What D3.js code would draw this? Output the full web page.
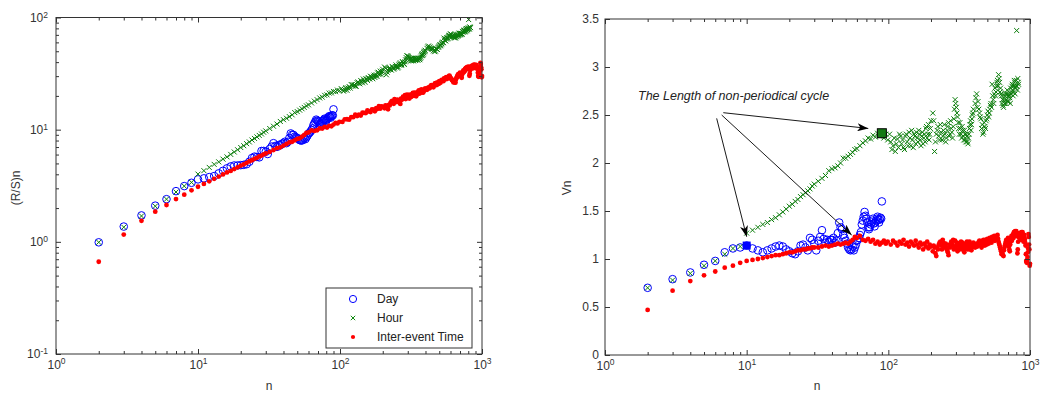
<!DOCTYPE html>
<html><head><meta charset="utf-8">
<script src="https://cdn.jsdelivr.net/npm/d3@7/dist/d3.min.js"></script>
<style>body{margin:0;background:#fff;} svg{display:block;}</style>
</head><body><svg id="c" width="1040" height="394"></svg>
<script>
// ---------------- data (Vn; (R/S)n = Vn * sqrt(n)) ----------------
const seriesNames = ["Day", "Hour", "Inter-event Time"];

const dayN = d3.range(2, 91);
const dayV = [0.70,0.79,0.86,0.94,0.98,1.07,1.11,1.12,1.14,1.11,1.09,1.07,1.09,1.11,1.13,1.14,1.13,1.10,1.08,
  1.06,1.05,1.08,1.14,1.15,1.12,1.09,1.22,1.20,1.16,1.09,1.19,1.23,1.30,1.21,1.17,1.20,1.18,1.20,1.20,
  1.22,1.17,1.19,1.27,1.38,1.33,1.31,1.25,1.22,1.19,1.16,1.12,1.10,1.09,1.10,1.13,1.09,1.12,1.15,1.19,
  1.20,1.22,1.25,1.28,1.36,1.40,1.44,1.49,1.45,1.42,1.38,1.33,1.31,1.33,1.36,1.38,1.40,1.42,1.37,1.34,
  1.38,1.40,1.42,1.44,1.41,1.38,1.41,1.43,1.42,1.60];

const hourN = [].concat(d3.range(2, 31), d3.range(32, 61, 2), d3.range(63, 100, 3), d3.range(104, 201, 4),
  d3.range(206, 399, 6), d3.range(410, 801, 10), [805, 810, 820, 830],
  d3.range(102, 199, 4), d3.range(209, 396, 6), d3.range(415, 796, 10), [815, 825]);
const hourV = [0.70,0.78,0.85,0.93,0.98,1.05,1.11,1.13,
  1.27,1.30,1.33,1.36,1.38,1.41,1.43,1.46,1.49,1.52,1.55,1.57,1.60,1.62,1.65,1.67,1.69,1.71,1.73,1.76,1.78,
  1.81,1.84,1.87,1.92,1.94,1.95,1.97,2.00,2.05,2.05,2.07,2.09,2.11,2.14,2.15,
  2.18,2.21,2.23,2.26,2.25,2.29,2.27,2.31,2.28,2.31,2.26,2.30,2.24,
  2.22,2.18,2.12,2.25,2.30,2.20,2.16,2.28,2.22,2.32,2.18,2.24,2.30,2.20,2.26,2.34,2.24,2.28,2.20,2.30,2.36,2.26,2.40,2.30,2.44,
  2.52,2.12,2.30,2.38,2.24,2.32,2.28,2.40,2.22,2.34,2.42,2.30,2.36,2.26,2.46,2.66,2.58,2.48,2.36,2.42,2.30,2.38,2.28,2.34,2.24,2.30,2.22,2.26,2.36,2.44,2.40,2.50,2.56,
  2.62,2.72,2.64,2.52,2.46,2.40,2.32,2.38,2.44,2.50,2.48,2.56,2.62,2.82,2.66,2.72,2.70,2.80,2.86,2.92,
  2.84,2.78,2.70,2.66,2.58,2.62,2.72,2.66,2.76,2.70,2.64,2.68,2.78,2.74,2.82,2.70,2.80,2.84,2.78,2.86,
  3.38,2.80,2.88,2.82,
  2.30,2.14,2.26,2.20,2.16,2.28,2.24,2.14,2.30,2.18,2.26,2.34,2.16,2.28,2.32,2.22,2.30,2.18,2.32,2.26,2.22,2.38,2.30,2.24,2.36,
  2.44,2.22,2.34,2.28,2.40,2.24,2.34,2.30,2.26,2.38,2.28,2.44,2.32,2.38,2.56,2.62,2.52,2.42,2.30,2.36,2.26,2.34,2.24,2.30,2.22,2.28,2.20,2.30,2.40,2.34,2.46,2.52,
  2.68,2.58,2.56,2.48,2.36,2.30,2.42,2.36,2.46,2.54,2.52,2.60,2.58,2.70,2.62,2.78,2.74,2.84,2.80,2.88,
  2.74,2.72,2.62,2.60,2.66,2.70,2.62,2.72,2.64,2.72,2.70,2.62,2.72,2.80,2.76,2.74,2.86,2.72,2.80,
  2.76,2.84];

const ieN = [].concat(d3.range(2, 31), d3.range(32, 61, 2), d3.range(63, 100, 3), d3.range(104, 201, 4),
  d3.range(206, 399, 6), d3.range(410, 1001, 10), d3.range(209, 396, 6), d3.range(415, 996, 10));
const ieV = [0.47,0.67,0.77,0.83,0.87,0.91,0.93,0.96,0.98,0.99,1.00,1.01,1.02,1.03,1.04,1.04,1.05,1.06,1.07,1.07,1.08,1.09,1.09,1.10,1.10,1.11,1.11,1.12,1.12,
  1.12,1.13,1.14,1.13,1.14,1.15,1.16,1.15,1.16,1.17,1.16,1.18,1.20,1.23,1.22,
  1.24,1.20,1.19,1.21,1.18,1.20,1.16,1.18,1.15,1.17,1.19,1.16,1.18,
  1.15,1.19,1.17,1.14,1.18,1.16,1.20,1.15,1.17,1.13,1.18,1.16,1.14,1.19,1.15,1.12,1.17,1.15,1.10,1.16,1.13,1.18,1.11,1.15,1.13,
  1.08,1.12,1.03,1.10,1.17,1.14,1.20,1.12,1.16,1.09,1.04,1.12,1.18,1.15,1.10,1.19,1.14,1.08,1.16,1.12,1.18,1.10,1.14,1.07,1.12,1.16,1.10,1.14,1.18,1.13,1.09,1.15,1.17,
  1.12,1.16,1.14,1.19,1.15,1.17,1.20,1.14,1.18,1.21,1.16,1.22,1.19,1.23,1.21,1.24,1.20,1.22,1.25,1.18,
  1.14,1.10,1.05,1.08,1.03,1.12,1.16,1.20,1.17,1.22,1.13,1.08,1.19,1.24,1.21,1.26,1.28,1.25,1.27,1.29,
  1.26,1.10,1.23,1.27,1.26,1.24,1.28,1.22,1.26,1.18,1.25,1.20,1.14,0.98,0.96,1.02,1.11,1.23,1.10,0.95,
  1.14,1.06,1.12,1.15,1.18,1.10,1.17,1.14,1.12,1.07,1.15,1.13,1.16,1.20,1.12,1.11,
  1.17,1.14,1.10,1.15,1.13,1.17,1.09,1.15,1.12,1.18,1.13,1.16,1.10,1.15,1.12,1.14,
  1.15,1.13,1.18,1.16,1.12,1.19,1.16,1.20,1.15,1.18,1.19,1.20,1.17,1.21,1.23,1.19,1.22,1.24,1.21,1.16,
  1.12,1.08,1.06,1.04,1.09,1.14,1.18,1.15,1.20,1.17,1.10,1.15,1.22,1.19,1.24,1.22,1.27,1.29,1.24,1.27,
  1.06,1.18,1.25,1.22,1.27,1.20,1.24,1.28,1.21,1.23,1.22,1.17,1.05,0.97,0.99,1.07,1.26,1.15,0.93];

// highlighted points ("length of non-periodical cycle")
const cycleDay = {n: 10, v: 1.14};
const cycleHour = {n: 90, v: 2.31};
const annotText = "The Length of non-periodical cycle";
const annotAt = {n: 1.71, v: 2.656};
const arrowTails = [{n: 6.84, v: 2.524}, {n: 6.14, v: 2.465}, {n: 6.66, v: 2.50}];
const arrowHeads = [{n: 72.2, v: 2.36}, {n: 10.0, v: 1.232}, {n: 55.1, v: 1.25}];

const xTicksMajor = [1, 10, 100, 1000];
const yTicksLeft = [0.1, 1, 10, 100];
const yTicksRight = [0, 0.5, 1, 1.5, 2, 2.5, 3, 3.5];

// ---------------- drawing ----------------
const FONT = '"Liberation Sans", Arial, Helvetica, sans-serif';
const INK = "#333";
const svg = d3.select("#c").attr("font-family", FONT);

const mk = (N, V) => N.map((n, i) => ({n, v: V[i], rs: V[i] * Math.sqrt(n)}));
const day = mk(dayN, dayV), hour = mk(hourN, hourV), ie = mk(ieN, ieV);

const xL = d3.scaleLog().domain([1, 1000]).range([56, 482]);
const yL = d3.scaleLog().domain([0.1, 100]).range([354, 17.5]);
const xR = d3.scaleLog().domain([1, 1000]).range([605, 1030]);
const yR = d3.scaleLinear().domain([0, 3.5]).range([355, 19]);

function minorsOf(majors) {
  const out = [];
  for (let i = 0; i < majors.length - 1; i++) for (let k = 2; k < 10; k++) out.push(majors[i] * k);
  return out;
}

function supify(sel) {
  sel.selectAll(".tick text").each(function(d) {
    const e = Math.round(Math.log10(d));
    const t = d3.select(this);
    t.text(null);
    t.append("tspan").text("10");
    t.append("tspan").attr("dy", "-0.5em").attr("font-size", "8.5px").text(e);
  });
}

function styleAxis(g) {
  g.select(".domain").remove();
  g.attr("font-family", FONT).attr("font-size", 12);
  g.selectAll(".tick line").attr("stroke", INK).attr("stroke-width", 1);
  g.selectAll(".tick text").attr("fill", INK);
}

function frame(x, y, logY, yMajor, yFmt, pad) {
  const [x0, x1] = x.range(), [y0, y1] = y.range();
  const g = svg.append("g");
  const xMin = minorsOf(xTicksMajor);
  const bx = g.append("g").attr("transform", `translate(0,${y0})`)
    .call(d3.axisBottom(x).tickValues(xTicksMajor).tickSize(-5).tickPadding(pad.x));
  supify(bx); styleAxis(bx);
  styleAxis(g.append("g").attr("transform", `translate(0,${y0})`).call(d3.axisBottom(x).tickValues(xMin).tickSize(-3).tickFormat("")));
  styleAxis(g.append("g").attr("transform", `translate(0,${y1})`).call(d3.axisTop(x).tickValues(xTicksMajor).tickSize(-5).tickFormat("")));
  styleAxis(g.append("g").attr("transform", `translate(0,${y1})`).call(d3.axisTop(x).tickValues(xMin).tickSize(-3).tickFormat("")));

  const ly = g.append("g").attr("transform", `translate(${x0},0)`)
    .call(d3.axisLeft(y).tickValues(yMajor).tickSize(-5).tickPadding(pad.y).tickFormat(yFmt));
  if (logY) supify(ly);
  styleAxis(ly);
  styleAxis(g.append("g").attr("transform", `translate(${x1},0)`).call(d3.axisRight(y).tickValues(yMajor).tickSize(-5).tickFormat("")));
  if (logY) {
    const yMin = minorsOf(yMajor);
    styleAxis(g.append("g").attr("transform", `translate(${x0},0)`).call(d3.axisLeft(y).tickValues(yMin).tickSize(-3).tickFormat("")));
    styleAxis(g.append("g").attr("transform", `translate(${x1},0)`).call(d3.axisRight(y).tickValues(yMin).tickSize(-3).tickFormat("")));
  }
  g.append("rect").attr("x", x0).attr("y", y1).attr("width", x1 - x0).attr("height", y0 - y1)
    .attr("fill", "none").attr("stroke", INK).attr("stroke-width", 1);
  return g;
}

const xShape = s => `M${-s},${-s}L${s},${s}M${-s},${s}L${s},${-s}`;

function scatter(x, y, key) {
  const g = svg.append("g");
  g.selectAll(".d").data(day).join("circle")
    .attr("cx", d => x(d.n)).attr("cy", d => y(d[key])).attr("r", 3.8)
    .attr("fill", "none").attr("stroke", "#0000ff").attr("stroke-width", 1);
  g.selectAll(".h").data(hour).join("path")
    .attr("transform", d => `translate(${x(d.n)},${y(d[key])})`).attr("d", xShape(2.5))
    .attr("fill", "none").attr("stroke", "#0b7d0b").attr("stroke-width", 1);
  g.selectAll(".r").data(ie).join("circle")
    .attr("cx", d => x(d.n)).attr("cy", d => y(d[key])).attr("r", 2.4)
    .attr("fill", "#ff0000");
  return g;
}

// ---- left panel ----
scatter(xL, yL, "rs");
frame(xL, yL, true, yTicksLeft, d => d, {x: 6, y: 8});
svg.append("text").attr("x", 269).attr("y", 390).attr("text-anchor", "middle")
  .attr("font-size", 12).attr("fill", INK).text("n");
svg.append("text").attr("transform", "translate(20,188) rotate(-90)").attr("text-anchor", "middle")
  .attr("font-size", 12).attr("fill", INK).text("(R/S)n");

// legend
const lg = svg.append("g").attr("transform", "translate(326,288)");
lg.append("rect").attr("width", 146).attr("height", 60).attr("fill", "#fff").attr("stroke", INK).attr("stroke-width", 1);
const rows = [11, 30, 49];
lg.append("circle").attr("cx", 27).attr("cy", rows[0]).attr("r", 3.6).attr("fill", "none").attr("stroke", "#0000ff");
lg.append("path").attr("transform", `translate(27,${rows[1]})`).attr("d", xShape(2.2)).attr("stroke", "#108a10").attr("fill", "none");
lg.append("circle").attr("cx", 27).attr("cy", rows[2]).attr("r", 2.1).attr("fill", "#ff0000");
lg.selectAll("text.l").data(seriesNames).join("text")
  .attr("x", 51).attr("y", (d, i) => rows[i] + 4.3).attr("font-size", 12).attr("fill", "#222").text(d => d);

// ---- right panel ----
scatter(xR, yR, "v");
frame(xR, yR, false, yTicksRight, d3.format(""), {x: 6, y: 6});
svg.append("text").attr("x", 817).attr("y", 390).attr("text-anchor", "middle")
  .attr("font-size", 12).attr("fill", INK).text("n");
svg.append("text").attr("transform", "translate(571,188) rotate(-90)").attr("text-anchor", "middle")
  .attr("font-size", 12).attr("fill", INK).text("Vn");

// highlighted points
svg.append("rect").attr("x", xR(cycleDay.n) - 4).attr("y", yR(cycleDay.v) - 4).attr("width", 8).attr("height", 8)
  .attr("fill", "#0000ff");
svg.append("rect").attr("x", xR(cycleHour.n) - 4.5).attr("y", yR(cycleHour.v) - 4.5).attr("width", 9).attr("height", 9)
  .attr("fill", "#137a13").attr("stroke", "#000").attr("stroke-width", 1);

// annotation
const defs = svg.append("defs");
defs.append("marker").attr("id", "ah").attr("markerUnits", "userSpaceOnUse")
  .attr("markerWidth", 11).attr("markerHeight", 8).attr("refX", 11).attr("refY", 4).attr("orient", "auto")
  .append("path").attr("d", "M0,0L11,4L0,8L3,4Z").attr("fill", "#000");
svg.append("g").selectAll("line").data(arrowTails).join("line")
  .attr("x1", d => xR(d.n)).attr("y1", d => yR(d.v))
  .attr("x2", (d, i) => xR(arrowHeads[i].n)).attr("y2", (d, i) => yR(arrowHeads[i].v))
  .attr("stroke", "#000").attr("stroke-width", 0.9).attr("marker-end", "url(#ah)");
svg.append("text").attr("x", xR(annotAt.n)).attr("y", yR(annotAt.v))
  .attr("font-size", 12.5).attr("font-style", "italic").attr("fill", "#222").text(annotText);
</script>
</body></html>
